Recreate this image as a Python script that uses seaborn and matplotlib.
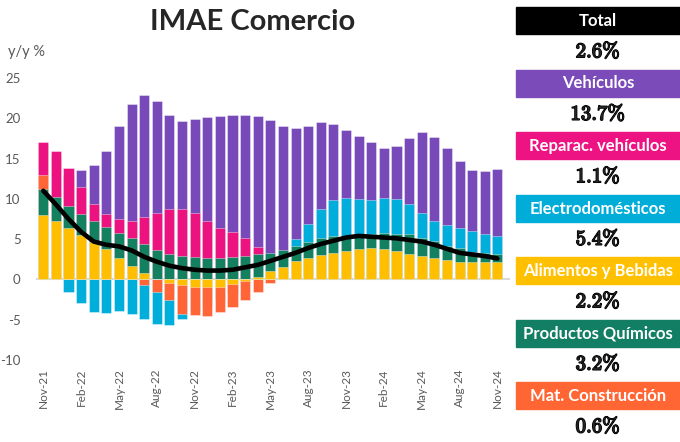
import numpy as np
import pandas as pd
import matplotlib
matplotlib.use("Agg")
import matplotlib.pyplot as plt
import matplotlib.patheffects as pe
from matplotlib.patches import Rectangle
import seaborn as sns

# monthly categories, Nov-21 .. Nov-24
months = list(pd.date_range("2021-11-01", periods=37, freq="MS").strftime("%b-%y"))

vehiculos = [16.9, 15.5, 13.0, 13.6, 14.2, 15.9, 19.0, 21.8, 22.9, 22.1, 20.4, 19.7, 19.9,
             20.2, 20.3, 20.4, 20.4, 20.3, 19.8, 19.1, 18.8, 19.1, 19.6, 19.3, 18.5, 17.8,
             17.0, 16.3, 16.5, 17.6, 18.3, 17.7, 16.3, 14.7, 13.6, 13.5, 13.7]
reparac = [17.1, 16.0, 13.85, 11.5, 9.4, 8.1, 7.5, 7.3, 7.7, 8.3, 8.8, 8.8, 8.2, 7.2, 6.4,
           5.9, 5.2, 4.0, 3.0, 2.5, 2.2, 2.0, 1.8, 1.6, 1.5, 1.4, 1.3, 1.2, 1.2, 1.3, 1.2,
           1.1, 1.0, 1.0, 1.1, 1.0, 1.1]
electro = [2.0, 0.5, -1.6, -2.9, -4.0, -4.2, -3.9, -4.3, -4.9, -5.5, -5.6, -4.9, -4.0, -3.2,
           -2.5, -1.7, -0.5, 0.8, 2.0, 3.2, 5.0, 6.85, 8.7, 9.8, 10.05, 10.0, 9.9, 10.05,
           10.0, 9.4, 8.3, 7.3, 6.8, 6.4, 6.0, 5.6, 5.4]
construccion = [13.0, 9.5, 8.0, 6.5, 5.0, 3.5, 2.0, 0.3, -0.7, -1.6, -2.6, -4.3, -4.4, -4.6,
                -4.1, -3.4, -2.5, -1.5, -0.5, 0.2, 0.5, 0.8, 1.0, 1.1, 1.2, 1.2, 1.1, 1.0,
                0.9, 0.8, 0.8, 0.7, 0.7, 0.6, 0.6, 0.6, 0.6]
quimicos = [11.2, 10.2, 9.1, 8.1, 7.2, 6.5, 5.8, 5.1, 4.4, 3.6, 3.1, 2.85, 2.8, 2.65, 2.65,
            2.8, 2.95, 3.1, 3.3, 3.7, 4.2, 4.7, 5.2, 5.4, 5.45, 5.7, 5.7, 5.8, 5.7, 5.6,
            5.2, 4.8, 4.2, 3.9, 3.4, 3.3, 3.2]
alimentos = [8.0, 7.3, 6.4, 5.5, 4.7, 3.8, 2.65, 1.7, 0.8, 0.0, -0.4, -0.7, -0.9, -1.0, -0.9,
             -0.55, -0.2, 0.25, 1.0, 1.6, 2.3, 2.65, 3.05, 3.3, 3.55, 3.8, 3.9, 3.8, 3.5,
             3.2, 2.9, 2.6, 2.4, 2.2, 2.2, 2.2, 2.2]
total = [11.0, 9.3, 7.5, 5.9, 4.7, 4.3, 4.1, 3.6, 2.8, 2.2, 1.7, 1.4, 1.2, 1.1, 1.1, 1.2,
         1.5, 1.8, 2.3, 2.8, 3.3, 3.9, 4.4, 4.8, 5.2, 5.4, 5.3, 5.2, 5.1, 4.9, 4.7, 4.3,
         3.8, 3.3, 3.1, 2.9, 2.6]

# right panel
panel_labels = ["Total", "Vehículos", "Reparac. vehículos", "Electrodomésticos",
                "Alimentos y Bebidas", "Productos Químicos", "Mat. Construcción"]
panel_values = ["2.6%", "13.7%", "1.1%", "5.4%", "2.2%", "3.2%", "0.6%"]
panel_colors = ["#000000", "#7B4BB9", "#EE1383", "#00ADD8", "#FFC000", "#127F64", "#FF6633"]

sns.set_style("white")
plt.rcParams["font.family"] = ["Lato", "DejaVu Sans"]
plt.rcParams["mathtext.fontset"] = "cm"

W, H = 680, 442
fig = plt.figure(figsize=(6.8, 4.42), dpi=100)
ax = fig.add_axes([36 / W, 1 - 360 / H, (510 - 36) / W, (360 - 78) / H])

# overlapping bars, back to front
series = [(vehiculos, "#7849B8"), (reparac, "#EC1380"), (electro, "#00AEDB"),
          (construccion, "#FF6536"), (quimicos, "#13805F"), (alimentos, "#FFBF00")]
for vals, col in series:
    sns.barplot(x=months, y=vals, order=months, color=col, saturation=1, width=0.8,
                edgecolor=(1, 1, 1, 0.55), linewidth=0.5, ax=ax, zorder=2)

ax.plot(np.arange(len(months)), total, color="black", lw=3.3, zorder=5,
        solid_capstyle="round")
ax.axhline(0, color="#d9d9d9", lw=1.5, zorder=1)

ax.set_ylim(-10, 25)
ax.set_xlim(-0.58, 37.0)
ax.set_yticks(range(-10, 30, 5))
ax.set_yticklabels([str(v) for v in range(-10, 30, 5)], fontsize=9.5, color="#595959")
ax.set_xticks(range(0, 37, 3))
ax.set_xticklabels(months[::3], rotation=90, fontsize=8.5, color="#595959")
ax.tick_params(axis="y", length=0, pad=11)
ax.tick_params(axis="x", length=0, pad=6)
ax.set_xlabel("")
ax.set_ylabel("")
for s in ax.spines.values():
    s.set_visible(False)

fig.text(253 / W, 1 - 22 / H, "IMAE Comercio", ha="center", va="center",
         fontsize=21, fontweight="bold")
fig.text(8 / W, 1 - 52 / H, "y/y %", ha="left", va="center", fontsize=10.5, color="#595959")

for k, (lab, val, col) in enumerate(zip(panel_labels, panel_values, panel_colors)):
    top = 7 + 62.5 * k
    fig.patches.append(Rectangle((516 / W, 1 - (top + 27) / H), 164 / W, 27 / H,
                                 transform=fig.transFigure, color=col, zorder=1))
    fig.text(598 / W, 1 - (top + 14) / H, lab, ha="center", va="center",
             fontsize=12, fontweight="bold", color="white")
    fig.text(598 / W, 1 - (top + 44) / H, r"$\mathbf{" + val.replace("%", r"\%") + "}$",
             ha="center", va="center", fontsize=15,
             path_effects=[pe.withStroke(linewidth=1.1, foreground="black")])

fig.savefig("out.png", dpi=100)
